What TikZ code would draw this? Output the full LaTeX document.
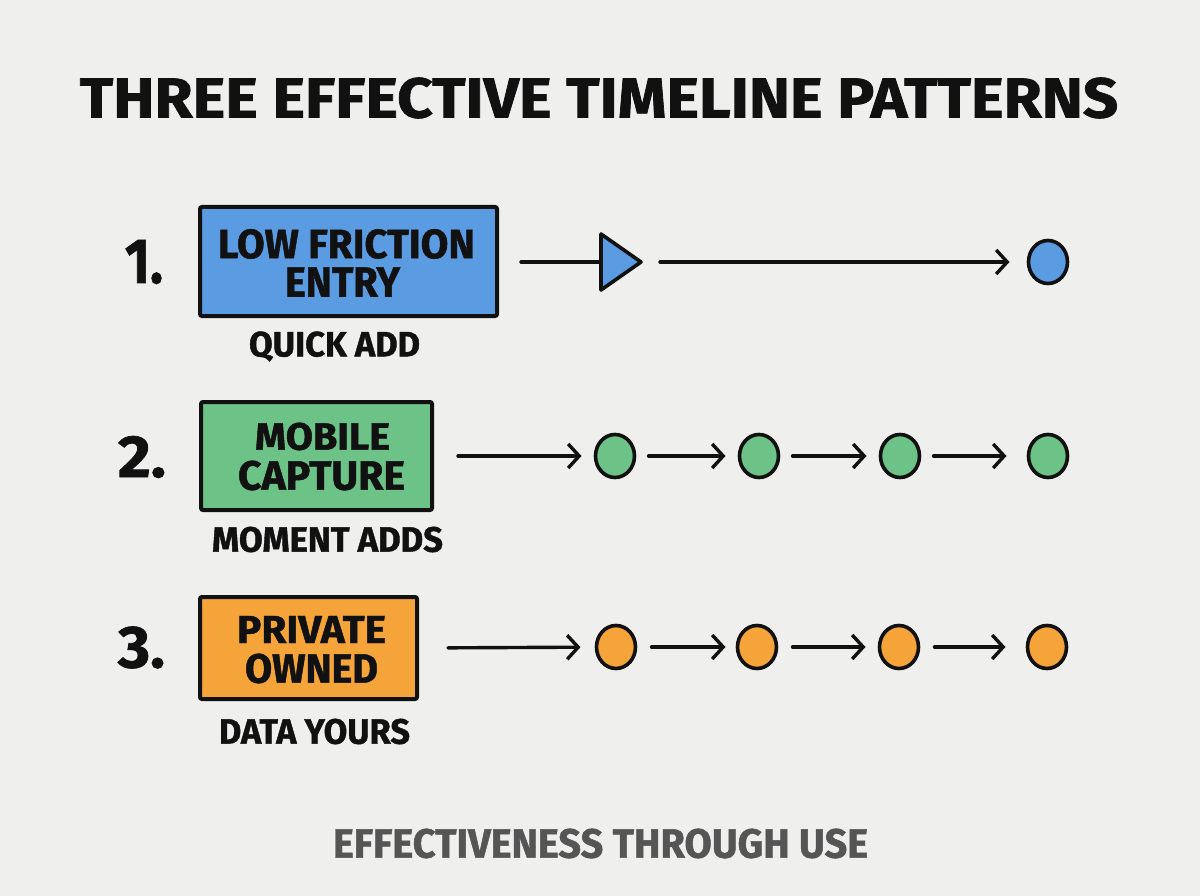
\documentclass[tikz,border=0pt]{standalone}
\usepackage{fontspec}
\setmainfont{Fira Sans}[BoldFeatures={FakeBold=1.2}]
\usepackage{graphicx}
\usetikzlibrary{arrows.meta,shapes.geometric}
\definecolor{bg}{HTML}{EFEFED}
\definecolor{bblue}{HTML}{5A9BE2}
\definecolor{bgreen}{HTML}{6CC287}
\definecolor{borange}{HTML}{F5A43A}
\definecolor{ink}{HTML}{111111}
\definecolor{gtext}{HTML}{555555}
\newcommand{\fit}[3]{\resizebox{#1pt}{#2pt}{\bfseries #3}}
\tikzset{
  every node/.style={inner sep=0pt, outer sep=0pt},
  box/.style={draw=ink, line width=4pt, rounded corners=2pt, rectangle},
  dot/.style={draw=ink, line width=3.6pt, ellipse, minimum width=39pt, minimum height=43pt},
  link/.style={draw=ink, line width=3.4pt, line cap=round, line join=round},
  arr/.style={link, -{Straight Barb[length=11pt,width=24pt]}},
}
\begin{document}
\begin{tikzpicture}[x=1pt,y=-1pt]
\fill[bg] (0,0) rectangle (1200,896);
\useasboundingbox (0,0) rectangle (1200,896);
% title
\node[text=ink] (title) at (599,98) {\fit{1038}{40}{THREE EFFECTIVE TIMELINE PATTERNS}};
% ---------- row 1
\node[text=ink] (n1) at (144,262) {\fit{38}{43}{1.}};
\node[box, fill=bblue, minimum width=297pt, minimum height=109pt] (b1) at (348.5,261.5) {};
\node[text=ink] (b1a) at (346.5,244) {\fit{257}{29}{LOW FRICTION}};
\node[text=ink] (b1b) at (342.5,282) {\fit{115}{29}{ENTRY}};
\node[text=ink] (s1) at (334.5,346.5) {\fit{171}{25}{QUICK ADD}};
\node[draw=ink, line width=3.6pt, line join=round, fill=bblue, isosceles triangle, isosceles triangle apex angle=70, minimum height=40pt, anchor=west] (t1) at (601,262) {};
\node[dot, fill=bblue] (c14) at (1048,262) {};
\coordinate (r1s) at (521,262);
\draw[link] (r1s) -- (t1.west);
\draw[arr, shorten <=19pt, shorten >=19pt] (t1.east) -- (c14);
% ---------- row 2
\node[text=ink] (n2) at (142,457) {\fit{48}{41}{2.}};
\node[box, fill=bgreen, minimum width=231pt, minimum height=108pt] (b2) at (316.5,456) {};
\node[text=ink] (b2a) at (322.5,436.5) {\fit{135}{27}{MOBILE}};
\node[text=ink] (b2b) at (321.5,475.5) {\fit{167}{29}{CAPTURE}};
\node[text=ink] (s2) at (327.5,539.5) {\fit{231}{25}{MOMENT ADDS}};
\node[dot, fill=bgreen] (c21) at (615,456) {};
\node[dot, fill=bgreen] (c22) at (759,456) {};
\node[dot, fill=bgreen] (c23) at (900,456) {};
\node[dot, fill=bgreen] (c24) at (1048,456) {};
\draw[arr, shorten <=26pt, shorten >=14pt] (b2.east) -- (c21);
\draw[arr, shorten <=14pt, shorten >=14pt] (c21) -- (c22);
\draw[arr, shorten <=14pt, shorten >=14pt] (c22) -- (c23);
\draw[arr, shorten <=14pt, shorten >=22pt] (c23) -- (c24);
% ---------- row 3
\node[text=ink] (n3) at (141.5,647.5) {\fit{47}{41}{3.}};
\node[box, fill=borange, minimum width=217pt, minimum height=102pt] (b3) at (308.5,648) {};
\node[text=ink] (b3a) at (311.5,629.5) {\fit{149}{27}{PRIVATE}};
\node[text=ink] (b3b) at (311.5,668.5) {\fit{133}{29}{OWNED}};
\node[text=ink] (s3) at (314.5,731.5) {\fit{191}{25}{DATA YOURS}};
\node[dot, fill=borange] (c31) at (616,647) {};
\node[dot, fill=borange] (c32) at (757,647) {};
\node[dot, fill=borange] (c33) at (899,647) {};
\node[dot, fill=borange] (c34) at (1047,647) {};
\draw[arr, shorten <=31pt, shorten >=16pt] (b3.east) -- (c31);
\draw[arr, shorten <=16pt, shorten >=12pt] (c31) -- (c32);
\draw[arr, shorten <=16pt, shorten >=14pt] (c32) -- (c33);
\draw[arr, shorten <=16pt, shorten >=22pt] (c33) -- (c34);
% footer
\node[text=gtext] (foot) at (600.5,843.5) {\fit{535}{29}{EFFECTIVENESS THROUGH USE}};
\end{tikzpicture}
\end{document}
